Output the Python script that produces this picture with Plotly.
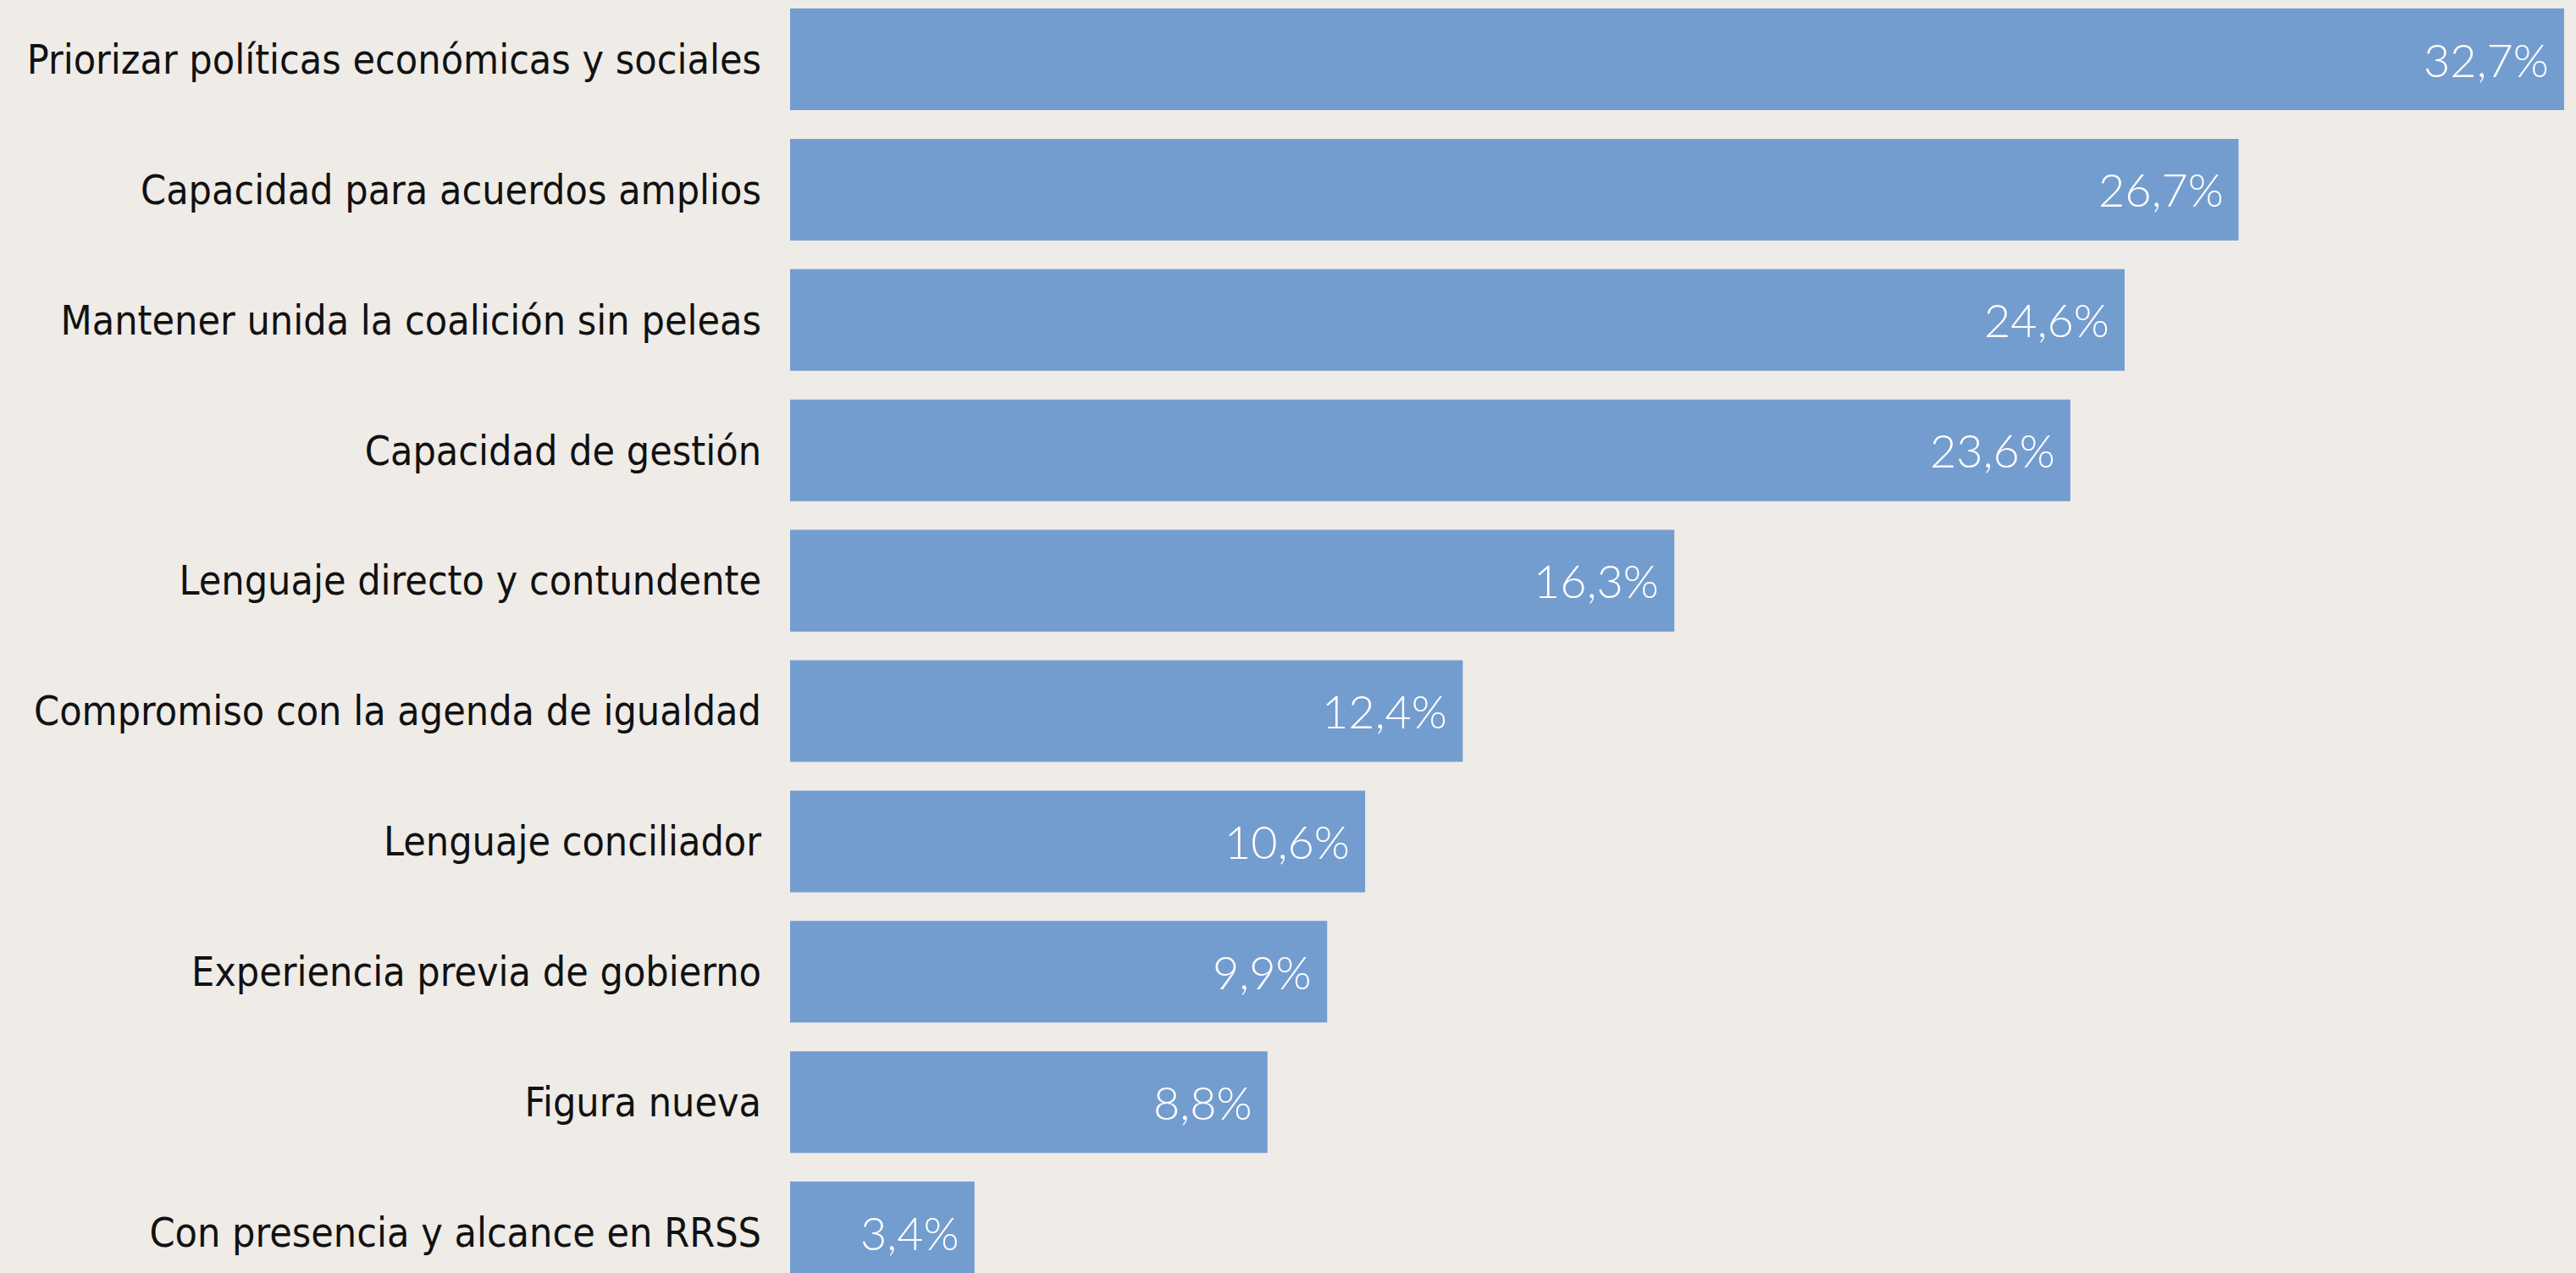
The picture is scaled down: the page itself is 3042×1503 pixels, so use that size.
import plotly.graph_objects as go

categories = [
    "Priorizar políticas económicas y sociales",
    "Capacidad para acuerdos amplios",
    "Mantener unida la coalición sin peleas",
    "Capacidad de gestión",
    "Lenguaje directo y contundente",
    "Compromiso con la agenda de igualdad",
    "Lenguaje conciliador",
    "Experiencia previa de gobierno",
    "Figura nueva",
    "Con presencia y alcance en RRSS",
]
values = [32.7, 26.7, 24.6, 23.6, 16.3, 12.4, 10.6, 9.9, 8.8, 3.4]
value_labels = [f"{v:.1f}%".replace(".", ",") for v in values]

BG = "#EFEBE7"
BAR = "#749DCF"

fig = go.Figure(
    go.Bar(
        x=values,
        y=categories,
        orientation="h",
        marker=dict(color=BAR, line=dict(width=0)),
        hoverinfo="skip",
    )
)

for v, c, t in zip(values, categories, value_labels):
    fig.add_annotation(
        x=v, y=c, text=t, showarrow=False, xanchor="right", yanchor="middle",
        xshift=-16, font=dict(family="Lato", size=54, color="white", weight=300),
    )

fig.update_layout(
    width=3042, height=1503,
    margin=dict(l=933, r=0, t=0, b=0),
    paper_bgcolor=BG, plot_bgcolor=BG,
    bargap=0.22,
    showlegend=False,
    xaxis=dict(range=[0, 32.92], visible=False, fixedrange=True),
    yaxis=dict(
        type="category",
        range=[9.311, -0.455],
        showgrid=False, zeroline=False, showline=False, ticks="",
        ticklabelstandoff=33,
        tickfont=dict(family="DejaVu Sans Condensed, DejaVu Sans, sans-serif", size=48, color="#111111"),
    ),
)

fig.write_html(
    "out.html",
    config={"displayModeBar": False},
    post_script="document.body.style.margin='0';document.body.style.background='#EFEBE7';",
)
